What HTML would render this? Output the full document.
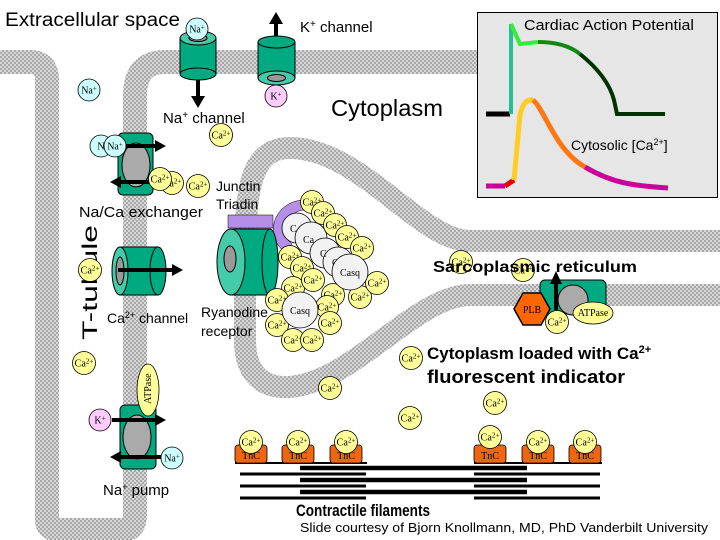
<!DOCTYPE html>
<html><head><meta charset="utf-8"><style>
html,body{margin:0;padding:0;background:#fff}
svg{display:block}
.s{font-family:"Liberation Sans",Arial,sans-serif}
.i{font-family:"Liberation Serif",serif;font-size:10px}
</style></head><body>
<svg width="720" height="540" viewBox="0 0 720 540" xmlns="http://www.w3.org/2000/svg">
<defs>
<pattern id="h" width="4" height="4" patternUnits="userSpaceOnUse">
<rect width="4" height="4" fill="#d8d8d8"/><rect width="2" height="2" fill="#a8a8a8"/><rect x="2" y="2" width="2" height="2" fill="#a8a8a8"/>
</pattern>
<g id="ca"><circle r="11.5" fill="#ffff99" stroke="#000" stroke-width="0.8"/><text class="i" x="0" y="3.5" text-anchor="middle" textLength="19" lengthAdjust="spacingAndGlyphs">Ca<tspan font-size="7" dy="-3">2+</tspan></text></g>
</defs>
<!-- membranes -->
<path d="M0 62 L30 62 Q47 62 47 80 L47 520 Q47 530 60 530 L122 530 Q135 530 135 515 L135 95 Q135 62 165 62 L480 62" fill="none" stroke="url(#h)" stroke-width="24"/>
<path d="M720 241 L470 241 C420 241 360 148 290 148 C252 148 245 185 245 260 L245 340 C245 382 272 392 302 385 C360 372 420 295 470 295 L720 295" fill="none" stroke="url(#h)" stroke-width="22"/>

<!-- AP box -->
<rect x="477.5" y="12.5" width="240" height="185" fill="#e6e6e6" stroke="#000"/>
<text class="s" x="524" y="30" font-size="15" textLength="170" lengthAdjust="spacingAndGlyphs">Cardiac Action Potential</text>
<text class="s" x="571" y="150" font-size="14">Cytosolic [Ca<tspan font-size="9" dy="-5">2+</tspan><tspan dy="5">]</tspan></text>
<path d="M486 114 L510 114" stroke="#000" stroke-width="5" fill="none"/>
<path d="M511 114 L511 24" stroke="#20c090" stroke-width="4" fill="none"/>
<path d="M511 24 L520 44 L538 42" stroke="#33ee33" stroke-width="4" fill="none"/>
<path d="M538 42 C555 42 570 46 580 54" stroke="#118811" stroke-width="4" fill="none"/>
<path d="M580 54 C600 70 610 85 614 100 L617 114 L665 114" stroke="#003300" stroke-width="4" fill="none"/>
<path d="M486 186 L505 186" stroke="#cc0099" stroke-width="5" fill="none"/>
<path d="M505 186 L514 180" stroke="#ee0000" stroke-width="5" fill="none"/>
<path d="M514 180 L520 115 Q524 98 533 100" stroke="#ffcc22" stroke-width="5" fill="none"/>
<path d="M533 100 C545 110 555 150 585 167" stroke="#ff7711" stroke-width="5" fill="none"/>
<path d="M585 167 C615 185 640 186 668 188" stroke="#cc0099" stroke-width="5" fill="none"/>

<!-- labels -->
<text class="s" x="5" y="26" font-size="19" textLength="175" lengthAdjust="spacingAndGlyphs">Extracellular space</text>
<text class="s" x="300" y="32" font-size="15">K<tspan font-size="10" dy="-5">+</tspan><tspan dy="5"> channel</tspan></text>
<text class="s" x="331" y="116" font-size="23" textLength="112" lengthAdjust="spacingAndGlyphs">Cytoplasm</text>
<text class="s" x="163" y="123" font-size="15">Na<tspan font-size="10" dy="-5">+</tspan><tspan dy="5"> channel</tspan></text>
<text class="s" x="216" y="191" font-size="14">Junctin</text>
<text class="s" x="216" y="209" font-size="14">Triadin</text>
<text class="s" x="79" y="217" font-size="15" textLength="124" lengthAdjust="spacingAndGlyphs">Na/Ca exchanger</text>
<text class="s" font-size="21" transform="translate(97,340) rotate(-90)" textLength="115" lengthAdjust="spacingAndGlyphs">T-tubule</text>
<text class="s" x="107" y="323" font-size="14">Ca<tspan font-size="9" dy="-5">2+</tspan><tspan dy="5"> channel</tspan></text>
<text class="s" x="201" y="317" font-size="14">Ryanodine</text>
<text class="s" x="201" y="336" font-size="14">receptor</text>
<text class="s" x="103" y="495" font-size="15">Na<tspan font-size="9" dy="-5">+</tspan><tspan dy="5"> pump</tspan></text>
<text class="s" x="427" y="359" font-size="17" font-weight="bold">Cytoplasm loaded with Ca<tspan font-size="11" dy="-6">2+</tspan></text>
<text class="s" x="427" y="383" font-size="18" font-weight="bold" textLength="198" lengthAdjust="spacingAndGlyphs">fluorescent indicator</text>
<text class="s" x="296" y="516" font-size="17" font-weight="bold" textLength="134" lengthAdjust="spacingAndGlyphs">Contractile filaments</text>
<text class="s" x="300" y="532" font-size="13" textLength="408" lengthAdjust="spacingAndGlyphs">Slide courtesy of Bjorn Knollmann, MD, PhD Vanderbilt University</text>

<!-- Na channel -->
<rect x="180" y="38" width="36" height="36" fill="#00aa80" stroke="#000"/>
<ellipse cx="198" cy="74" rx="18" ry="6" fill="#00aa80" stroke="#000"/>
<ellipse cx="198" cy="38" rx="18" ry="7" fill="#44ccaa" stroke="#000"/>
<ellipse cx="198" cy="38" rx="9" ry="3.5" fill="#999" stroke="#000"/>
<path d="M198 80 L198 98" stroke="#000" stroke-width="4"/><path d="M191 96 L205 96 L198 108 Z"/>
<circle cx="197" cy="29" r="11" fill="#ccffff" stroke="#000" stroke-width="0.8"/><text class="i" x="197" y="32.5" text-anchor="middle">Na<tspan font-size="7" dy="-3">+</tspan></text>
<!-- K channel -->
<path d="M276 40 L276 22" stroke="#000" stroke-width="4"/><path d="M269 24 L283 24 L276 12 Z"/>
<rect x="258" y="42" width="37" height="36" fill="#00aa80" stroke="#000"/>
<ellipse cx="276.5" cy="42" rx="18.5" ry="6" fill="#00aa80" stroke="#000"/>
<ellipse cx="276.5" cy="78" rx="18.5" ry="7" fill="#44ccaa" stroke="#000"/>
<ellipse cx="276.5" cy="78" rx="9" ry="3.5" fill="#999" stroke="#000"/>
<circle cx="276" cy="96" r="11" fill="#ffccff" stroke="#000" stroke-width="0.8"/><text class="i" x="276" y="99.5" text-anchor="middle">K<tspan font-size="7" dy="-3">+</tspan></text>
<circle cx="89" cy="90" r="11" fill="#ccffff" stroke="#000" stroke-width="0.8"/><text class="i" x="89" y="93.5" text-anchor="middle">Na<tspan font-size="7" dy="-3">+</tspan></text>

<!-- Na/Ca exchanger -->
<rect x="118" y="133" width="35" height="62" rx="5" fill="#00aa80" stroke="#000"/>
<ellipse cx="136" cy="165" rx="14" ry="22" fill="#aaa" stroke="#000"/>
<circle cx="101" cy="146" r="11" fill="#ccffff" stroke="#000" stroke-width="0.8"/><text class="i" x="101" y="149.5" text-anchor="middle">N</text>
<circle cx="115" cy="146" r="11" fill="#ccffff" stroke="#000" stroke-width="0.8"/><text class="i" x="115" y="149.5" text-anchor="middle">Na<tspan font-size="7" dy="-3">+</tspan></text>
<path d="M126 146 L156 146" stroke="#000" stroke-width="4"/><path d="M155 140 L166 146 L155 152 Z"/>
<path d="M158 182 L120 182" stroke="#000" stroke-width="4"/><path d="M121 176 L110 182 L121 188 Z"/>

<!-- Ca channel (L-type) -->
<rect x="120" y="247" width="38" height="48" fill="#00aa80" stroke="#000"/>
<ellipse cx="158" cy="271" rx="8" ry="24" fill="#00aa80" stroke="#000"/>
<ellipse cx="120" cy="271" rx="8" ry="24" fill="#44ccaa" stroke="#000"/>
<ellipse cx="120" cy="271" rx="4" ry="14" fill="#999" stroke="#000"/>
<path d="M118 270 L172 270" stroke="#000" stroke-width="4"/><path d="M172 264 L183 270 L172 276 Z"/>

<!-- Junctin/triadin -->
<rect x="228" y="215" width="45" height="13" fill="#b58ee8" stroke="#000" stroke-width="0.5"/>
<path d="M305 200 C275 200 262 235 285 252 L292 244 C278 232 288 210 305 210 Z" fill="#b58ee8" stroke="#000" stroke-width="0.5"/>
<!-- Ryanodine receptor -->
<rect x="231" y="229" width="39" height="66" fill="#00aa80" stroke="#000"/>
<ellipse cx="270" cy="262" rx="8" ry="33" fill="#00aa80" stroke="#000"/>
<ellipse cx="231" cy="262" rx="14" ry="33" fill="#44ccaa" stroke="#000"/>
<ellipse cx="230" cy="259" rx="6" ry="13" fill="#999" stroke="#000"/>

<!-- Casq cluster -->
<g fill="#f2f2f2" stroke="#000" stroke-width="0.8">
<circle cx="297" cy="228" r="15"/><circle cx="311" cy="238" r="16"/><circle cx="325" cy="253" r="15"/><circle cx="338" cy="262" r="15"/>
</g>
<g class="i"><text x="290" y="232">C</text><text x="303" y="243">Ca</text><text x="320" y="257">C</text><text x="332" y="266">C</text></g>
<use href="#ca" x="312" y="202"/><use href="#ca" x="323" y="213"/><use href="#ca" x="335" y="225"/><use href="#ca" x="347" y="237"/><use href="#ca" x="362" y="248"/>
<use href="#ca" x="290" y="257"/><use href="#ca" x="302" y="268"/><use href="#ca" x="333" y="295"/><use href="#ca" x="360" y="297"/><use href="#ca" x="377" y="283"/>
<use href="#ca" x="293" y="288"/><use href="#ca" x="277" y="300"/><use href="#ca" x="327" y="307"/><use href="#ca" x="330" y="323"/>
<use href="#ca" x="277" y="325"/><use href="#ca" x="293" y="340"/><use href="#ca" x="312" y="340"/>
<circle cx="350" cy="272" r="18" fill="#f2f2f2" stroke="#000" stroke-width="0.8"/><text class="i" x="350" y="276" text-anchor="middle">Casq</text>
<use href="#ca" x="313" y="280"/>
<circle cx="300" cy="310" r="18" fill="#f2f2f2" stroke="#000" stroke-width="0.8"/><text class="i" x="300" y="314" text-anchor="middle">Casq</text>

<!-- free Ca -->
<use href="#ca" x="221" y="135"/><use href="#ca" x="172" y="183"/><use href="#ca" x="198" y="186"/><use href="#ca" x="90" y="270"/><use href="#ca" x="160" y="179"/>
<use href="#ca" x="84" y="363"/><use href="#ca" x="411" y="358"/><use href="#ca" x="330" y="388"/><use href="#ca" x="495" y="403"/><use href="#ca" x="410" y="418"/>
<use href="#ca" x="461" y="262"/><use href="#ca" x="523" y="270"/>
<text class="s" x="433" y="272" font-size="16" font-weight="bold" textLength="204" lengthAdjust="spacingAndGlyphs">Sarcoplasmic reticulum</text>

<!-- SERCA -->
<rect x="540" y="280" width="66" height="34" rx="5" fill="#00aa80" stroke="#000"/>
<circle cx="573" cy="300" r="15" fill="#aaa" stroke="#000"/>
<path d="M556 310 L556 282" stroke="#000" stroke-width="4"/><path d="M550 284 L556 271 L562 284 Z"/>
<polygon points="514,309 523,293 541,293 550,309 541,325 523,325" fill="#ff6600" stroke="#000" stroke-width="1.5"/>
<text class="i" x="532" y="313" text-anchor="middle">PLB</text>
<ellipse cx="593" cy="313" rx="20" ry="11" fill="#ffff99" stroke="#000" stroke-width="0.8"/><text class="i" x="593" y="316" text-anchor="middle" font-size="8">ATPase</text>
<use href="#ca" x="557" y="322"/>

<!-- Na pump -->
<rect x="120" y="405" width="36" height="64" rx="5" fill="#00aa80" stroke="#000"/>
<ellipse cx="137" cy="437" rx="14" ry="22" fill="#aaa" stroke="#000"/>
<ellipse cx="148" cy="390" rx="11" ry="26" fill="#ffff99" stroke="#000" stroke-width="0.8"/>
<text class="i" font-size="8" transform="translate(151,404) rotate(-90)">ATPase</text>
<circle cx="100" cy="420" r="11" fill="#ffccff" stroke="#000" stroke-width="0.8"/><text class="i" x="100" y="423.5" text-anchor="middle">K<tspan font-size="7" dy="-3">+</tspan></text>
<path d="M112 420 L156 420" stroke="#000" stroke-width="4"/><path d="M155 414 L166 420 L155 426 Z"/>
<path d="M162 457 L120 457" stroke="#000" stroke-width="4"/><path d="M121 451 L110 457 L121 463 Z"/>
<circle cx="172" cy="458" r="11" fill="#ccffff" stroke="#000" stroke-width="0.8"/><text class="i" x="172" y="461.5" text-anchor="middle">Na<tspan font-size="7" dy="-3">+</tspan></text>

<!-- contractile filaments -->
<g stroke="#000" fill="none">
<path d="M235 463 L367 463 M474 463 L602 463" stroke-width="2"/>
<path d="M240 474 L366 474 M474 474 L600 474 M240 486 L366 486 M474 486 L600 486 M240 498 L366 498 M474 498 L600 498" stroke-width="3"/>
<path d="M300 468 L527 468 M300 480 L527 480 M300 492 L527 492" stroke-width="4.5"/>
</g>
<g fill="#ee6611" stroke="#000" stroke-width="0.8">
<rect x="235" y="445" width="32" height="18" rx="3"/><rect x="282" y="445" width="32" height="18" rx="3"/><rect x="330" y="445" width="32" height="18" rx="3"/>
<rect x="474" y="445" width="32" height="18" rx="3"/><rect x="522" y="445" width="32" height="18" rx="3"/><rect x="569" y="445" width="32" height="18" rx="3"/>
</g>
<g class="i" text-anchor="middle"><text x="251" y="459">TnC</text><text x="298" y="459">TnC</text><text x="346" y="459">TnC</text><text x="490" y="459">TnC</text><text x="538" y="459">TnC</text><text x="585" y="459">TnC</text></g>
<use href="#ca" x="251" y="442"/><use href="#ca" x="298" y="442"/><use href="#ca" x="346" y="442"/>
<use href="#ca" x="490" y="437"/><use href="#ca" x="538" y="442"/><use href="#ca" x="585" y="442"/>
</svg>
</body></html>
